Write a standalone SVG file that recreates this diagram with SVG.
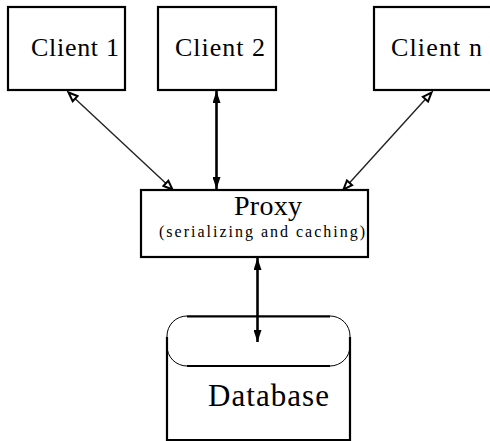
<svg xmlns="http://www.w3.org/2000/svg" width="490" height="441" viewBox="0 0 490 441">
<defs>
<style>
.box{fill:#fff;stroke:#000;stroke-width:2.2}
.t{font-family:"Liberation Serif","Times New Roman",serif;fill:#000}
.thick{stroke:#000;stroke-width:2.6;fill:none}
.thin{stroke:#222;stroke-width:1.4;fill:none}
</style>
<marker id="fa" viewBox="0 0 12 8" refX="12" refY="4" markerWidth="12" markerHeight="8" markerUnits="userSpaceOnUse" orient="auto-start-reverse">
<path d="M0,0 L12,4 L0,8 z" fill="#000"/>
</marker>
<marker id="oa" viewBox="-1.5 -1.5 12 10" refX="9" refY="3.5" markerWidth="12" markerHeight="10" markerUnits="userSpaceOnUse" orient="auto-start-reverse">
<path d="M0,0 L9,3.5 L0,7 z" fill="#fff" stroke="#000" stroke-width="2"/>
</marker>
</defs>
<g id="connectors">
<line class="thin" x1="68.5" y1="92.5" x2="172.5" y2="189.5" marker-start="url(#oa)" marker-end="url(#oa)"/>
<line class="thick" x1="216.5" y1="91" x2="216.5" y2="189" marker-start="url(#fa)" marker-end="url(#fa)"/>
<line class="thin" x1="431.5" y1="92.5" x2="343.5" y2="189.5" marker-start="url(#oa)" marker-end="url(#oa)"/>
<line class="thick" x1="257.5" y1="258" x2="257.5" y2="342" marker-start="url(#fa)" marker-end="url(#fa)"/>
</g>
<g id="client1">
<rect class="box" x="8" y="7" width="117" height="83"/>
<text class="t" x="31" y="56" font-size="26" textLength="88" lengthAdjust="spacing">Client 1</text>
</g>
<g id="client2">
<rect class="box" x="158" y="7" width="118" height="83"/>
<text class="t" x="175" y="56" font-size="26" textLength="90" lengthAdjust="spacing">Client 2</text>
</g>
<g id="clientn">
<rect class="box" x="374" y="7" width="120" height="83"/>
<text class="t" x="391" y="56" font-size="26" textLength="91" lengthAdjust="spacing">Client n</text>
</g>
<g id="proxy">
<rect class="box" x="141" y="190" width="227" height="67" stroke-width="3"/>
<text class="t" x="234" y="215" font-size="28" textLength="68" lengthAdjust="spacing">Proxy</text>
<text class="t" x="159" y="237" font-size="16" textLength="206" lengthAdjust="spacing">(serializing and caching)</text>
</g>
<g id="database">
<rect x="167" y="316" width="183" height="50" rx="20" ry="20" fill="none" stroke="#000" stroke-width="1"/>
<line x1="187" y1="316.5" x2="330" y2="316.5" stroke="#000" stroke-width="2"/>
<line x1="187" y1="366" x2="330" y2="366" stroke="#000" stroke-width="2"/>
<path d="M167,337 V440 H350 V337" fill="none" stroke="#000" stroke-width="2.2"/>
<text class="t" x="208" y="406" font-size="31" textLength="121" lengthAdjust="spacing">Database</text>
</g>
</svg>
